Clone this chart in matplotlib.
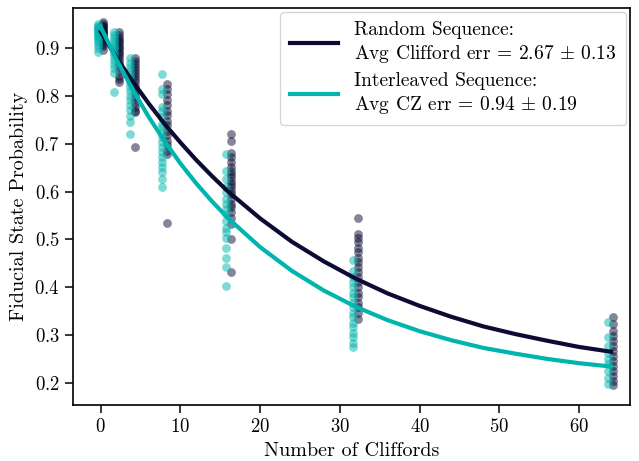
import matplotlib
matplotlib.use("Agg")

import matplotlib.pyplot as plt
import numpy as np

# sequence lengths (number of Cliffords)
lengths = [0, 2, 4, 8, 16, 32, 64]

# fidelity samples per length
random_seq = [
    [0.955, 0.951, 0.948, 0.946, 0.944, 0.941, 0.939, 0.937, 0.935, 0.932, 0.930, 0.927, 0.924, 0.921, 0.918, 0.914, 0.910, 0.905, 0.897],
    [0.934, 0.928, 0.922, 0.918, 0.913, 0.909, 0.904, 0.900, 0.895, 0.891, 0.886, 0.880, 0.874, 0.868, 0.861, 0.852, 0.843, 0.836, 0.829],
    [0.881, 0.874, 0.867, 0.861, 0.855, 0.848, 0.842, 0.836, 0.829, 0.822, 0.816, 0.809, 0.801, 0.794, 0.786, 0.778, 0.770, 0.766, 0.693],
    [0.826, 0.816, 0.805, 0.791, 0.781, 0.770, 0.760, 0.749, 0.739, 0.728, 0.718, 0.707, 0.697, 0.686, 0.678, 0.534],
    [0.720, 0.707, 0.681, 0.672, 0.662, 0.651, 0.644, 0.637, 0.630, 0.623, 0.616, 0.609, 0.602, 0.595, 0.585, 0.574, 0.567, 0.557, 0.546, 0.532, 0.501, 0.431],
    [0.544, 0.511, 0.504, 0.494, 0.483, 0.473, 0.462, 0.452, 0.442, 0.431, 0.421, 0.410, 0.400, 0.389, 0.379, 0.368, 0.358, 0.347, 0.333],
    [0.337, 0.323, 0.309, 0.298, 0.288, 0.277, 0.267, 0.256, 0.246, 0.235, 0.225, 0.214, 0.204, 0.195],
]
interleaved_seq = [
    [0.952, 0.948, 0.945, 0.943, 0.940, 0.938, 0.935, 0.932, 0.929, 0.926, 0.922, 0.918, 0.913, 0.907, 0.900, 0.892],
    [0.934, 0.928, 0.922, 0.916, 0.910, 0.904, 0.898, 0.891, 0.884, 0.876, 0.868, 0.858, 0.848, 0.808],
    [0.879, 0.870, 0.862, 0.853, 0.845, 0.836, 0.828, 0.819, 0.810, 0.801, 0.792, 0.782, 0.771, 0.758, 0.745, 0.720],
    [0.847, 0.816, 0.805, 0.777, 0.770, 0.756, 0.742, 0.735, 0.725, 0.714, 0.704, 0.693, 0.683, 0.672, 0.662, 0.651, 0.641, 0.627, 0.610],
    [0.679, 0.644, 0.627, 0.609, 0.599, 0.585, 0.574, 0.564, 0.553, 0.539, 0.525, 0.515, 0.504, 0.483, 0.462, 0.442, 0.403],
    [0.456, 0.435, 0.421, 0.410, 0.400, 0.389, 0.379, 0.368, 0.358, 0.347, 0.337, 0.326, 0.316, 0.305, 0.295, 0.284, 0.274],
    [0.328, 0.295, 0.277, 0.263, 0.249, 0.239, 0.225, 0.211, 0.197],
]

# fitted decay curves
fit_x = [0, 2, 4, 6, 8, 10, 12, 14, 16, 20, 24, 28, 32, 36, 40, 44, 48, 52, 56, 60, 64]
random_fit = [0.935, 0.880, 0.831, 0.785, 0.742, 0.703, 0.666, 0.632, 0.600, 0.544, 0.495, 0.454, 0.418, 0.387, 0.361, 0.338, 0.318, 0.302, 0.288, 0.275, 0.265]
interleaved_fit = [0.945, 0.876, 0.814, 0.757, 0.706, 0.659, 0.617, 0.579, 0.544, 0.484, 0.434, 0.393, 0.359, 0.331, 0.308, 0.289, 0.273, 0.261, 0.250, 0.241, 0.234]

random_label = "Random Sequence:\nAvg Clifford err = 2.67 $\\pm$ 0.13"
interleaved_label = "Interleaved Sequence:\nAvg CZ err = 0.94 $\\pm$ 0.19"

NAVY = "#0c0b33"
TEAL = "#00b5ad"

plt.rcParams["font.family"] = ["cmr10", "DejaVu Serif"]
plt.rcParams["mathtext.fontset"] = "cm"
plt.rcParams["axes.formatter.use_mathtext"] = True
plt.rcParams["font.size"] = 14


def _scatter_columns(ax, values, offset, color):
    for n, ys in zip(lengths, values):
        xs = np.full(len(ys), n + offset)
        ax.scatter(xs, ys, s=40, color=color, alpha=0.5, linewidths=0, zorder=2)


fig = plt.figure(figsize=(6.39, 4.61), dpi=100)
ax = fig.add_axes([0.114, 0.121, 0.872, 0.862])

_scatter_columns(ax, random_seq, 0.3, NAVY)
_scatter_columns(ax, interleaved_seq, -0.35, TEAL)

ax.plot(fit_x, random_fit, color=NAVY, lw=3, label=random_label, zorder=3)
ax.plot(fit_x, interleaved_fit, color=TEAL, lw=3, label=interleaved_label, zorder=3)

ax.set_xlim(-3.5, 66.4)
ax.set_ylim(0.153, 0.985)
ax.set_xticks([0, 10, 20, 30, 40, 50, 60])
ax.set_yticks([0.2, 0.3, 0.4, 0.5, 0.6, 0.7, 0.8, 0.9])
ax.tick_params(direction="out", length=6, width=1.1, labelsize=13.5)
for spine in ax.spines.values():
    spine.set_linewidth(1.2)

ax.set_xlabel("Number of Cliffords", fontsize=14.5)
ax.set_ylabel("Fiducial State Probability", fontsize=14.5)

ax.legend(loc="upper right", fontsize=14, handlelength=2.5, labelspacing=0.4,
          framealpha=0.8, edgecolor="#cccccc", borderpad=0.5, borderaxespad=0.2)

fig.savefig("out.png", dpi=100)
plt.close(fig)
